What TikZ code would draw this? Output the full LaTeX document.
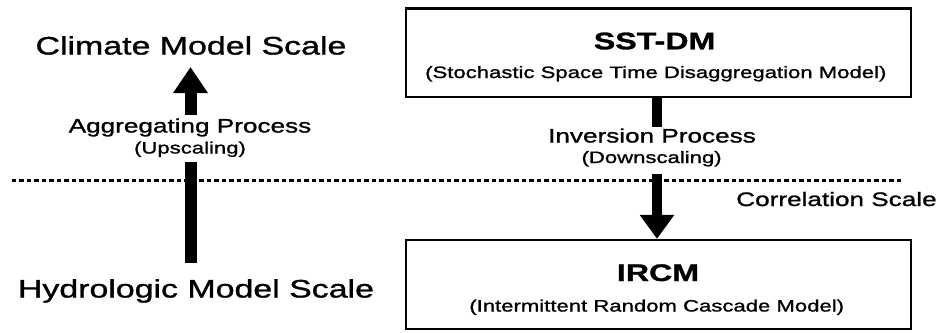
\documentclass[tikz,border=0pt]{standalone}
\usepackage{fontspec}
\setmainfont{Liberation Sans}[FakeStretch=1.34,FakeBold=1.2]
\usetikzlibrary{arrows.meta}
\begin{document}
\begin{tikzpicture}[x=1pt,y=-1pt,
  lbl/.style={inner sep=0pt, anchor=base},
  bigtxt/.style={lbl, font=\fontsize{25.3}{30}\selectfont},
  midtxt/.style={lbl, font=\fontsize{19.5}{23}\selectfont},
  smalltxt/.style={lbl, font=\fontsize{16.5}{20}\selectfont},
  titletxt/.style={lbl, font=\fontsize{24}{28}\selectfont\bfseries},
  modelbox/.style={draw, line width=2.3pt, minimum width=505pt, inner sep=0pt},
  shaft/.style={line width=#1, line cap=butt},
  headtip/.style={-{Triangle[width=33pt,length=#1]}},
  scaleline/.style={line width=3pt, dash pattern=on 4.5pt off 3pt}]
\useasboundingbox (0,0) rectangle (942,332);

% model boxes
\node[modelbox, minimum height=88.5pt] (sst) at (658.5,52.75) {};
\node[modelbox, minimum height=89pt] (ircm) at (658.5,284.5) {};

% box titles and subtitles
\node[titletxt] (ssttitle) at (654.6,49.3) {SST-DM};
\node[smalltxt] (sstsub) at (655.8,78) {(Stochastic Space Time Disaggregation Model)};
\node[titletxt] (ircmtitle) at (658,281) {IRCM};
\node[smalltxt] (ircmsub) at (656.7,311.5) {(Intermittent Random Cascade Model)};

% scale labels
\node[bigtxt] (climate) at (191,54.5) {Climate Model Scale};
\node[bigtxt] (hydro) at (196,297.5) {Hydrologic Model Scale};
\node[midtxt] (corr) at (836.5,206) {Correlation Scale};

% process labels
\node[midtxt] (agg) at (190,132.5) {Aggregating Process};
\node[smalltxt] (ups) at (190,153.5) {(Upscaling)};
\node[midtxt] (inv) at (652,142.5) {Inversion Process};
\node[smalltxt] (dns) at (651.6,163) {(Downscaling)};

% correlation scale divider
\coordinate (dl) at (11.7,180);
\coordinate (dr) at (904,180);
\draw[scaleline] (dl) -- (dr);

% upscaling arrow
\coordinate (ua) at (190.5,263);
\coordinate (ub) at (190.5,162);
\coordinate (uc) at (190.5,115);
\coordinate (ud) at (190.5,67);
\draw[shaft=12pt] (ua) -- (ub);
\draw[shaft=12pt, headtip=26pt] (uc) -- (ud);

% downscaling arrow
\coordinate (rx) at (657,0);
\coordinate (da) at (657,126.5);
\coordinate (db) at (657,174);
\draw[shaft=10pt] (sst.south -| rx) -- (da);
\draw[shaft=10pt, headtip=24pt] (db) -- (ircm.north -| rx);
\end{tikzpicture}
\end{document}
